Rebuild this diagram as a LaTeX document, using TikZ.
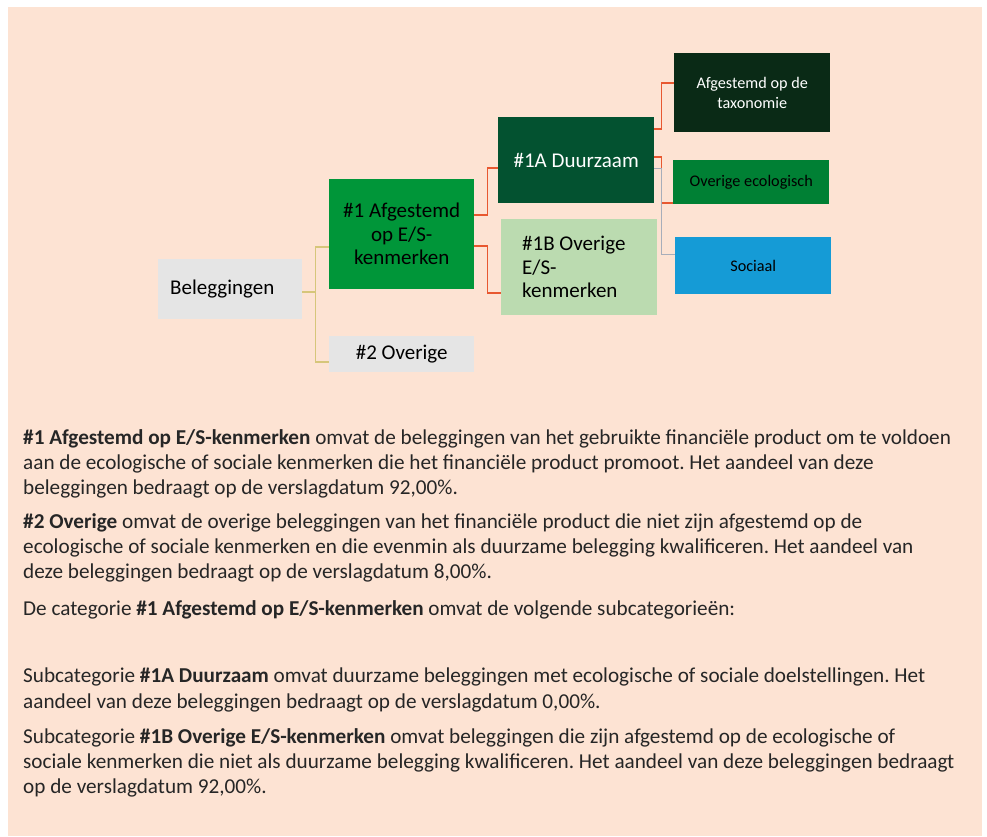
\documentclass[tikz,border=0pt]{standalone}
\usepackage{fontspec}
\setmainfont{Carlito}
\frenchspacing
\usetikzlibrary{positioning}

\definecolor{peach}{RGB}{253,227,211}
\definecolor{boxgray}{RGB}{229,229,229}
\definecolor{esgreen}{RGB}{0,150,57}
\definecolor{sustgreen}{RGB}{3,82,48}
\definecolor{lightgreen}{RGB}{187,219,176}
\definecolor{taxgreen}{RGB}{10,42,22}
\definecolor{ecogreen}{RGB}{0,128,52}
\definecolor{socblue}{RGB}{21,155,214}
\definecolor{linkred}{RGB}{232,88,48}
\definecolor{linktan}{RGB}{214,198,122}
\definecolor{linkgray}{RGB}{168,174,186}
\definecolor{bodytext}{RGB}{38,38,38}

\begin{document}
\begin{tikzpicture}[x=1pt,y=-1pt,
		box/.style={anchor=north west, inner sep=0pt, align=center, text=black,
			font=\fontsize{21}{23.5}\selectfont},
		smallbox/.style={box, font=\fontsize{16.2}{19.5}\selectfont},
		para/.style={anchor=north west, inner sep=0pt, align=left, text=bodytext,
			font=\fontsize{21.2}{25.2}\selectfont},
		tanlink/.style={draw=linktan, line width=1.8pt},
		redlink/.style={draw=linkred, line width=1.5pt},
		graylink/.style={draw=linkgray, line width=1pt}]
		\useasboundingbox (0,0) rectangle (987,837);
		\fill[peach] (8,7) rectangle (982,836);
		
		% Boxes
		\node[box, fill=boxgray, align=flush left, text width=120pt, inner xsep=12pt, minimum height=60pt] (bel) at (158,259) {Beleggingen};
		\node[box, fill=esgreen, minimum width=145pt, minimum height=110pt] (grp1) at (329,179) {\#1 Afgestemd\\op E/S-\\kenmerken};
		\node[box, fill=boxgray, minimum width=145pt, minimum height=36pt] (grp2) at (329,336) {\#2 Overige};
		\node[box, fill=sustgreen, text=white, minimum width=156pt, minimum height=86pt] (sust) at (498,117) {\#1A Duurzaam};
		\node[box, fill=lightgreen, align=flush left, text width=114pt, inner xsep=21pt, minimum height=96pt] (other) at (501,219) {\#1B Overige\\E/S-\\kenmerken};
		\node[smallbox, fill=taxgreen, text=white, minimum width=156pt, minimum height=79pt] (tax) at (674,53) {Afgestemd op de\\taxonomie};
		\node[smallbox, fill=ecogreen, minimum width=156pt, minimum height=44pt] (eco) at (673,160) {Overige ecologisch};
		\node[smallbox, fill=socblue, minimum width=156pt, minimum height=57pt] (soc) at (675,237) {Sociaal};
		
		% Links
		\draw[tanlink] ([yshift=-3pt]bel.east) -- ++(13,0) |- ([yshift=-13pt]grp1.west);
		\draw[tanlink] ([yshift=-3pt]bel.east) -- ++(13,0) |- ([yshift=-8pt]grp2.west);
		\draw[redlink] ([yshift=19pt]grp1.east) -- ++(13,0) |- ([yshift=-8pt]sust.west);
		\draw[redlink] ([yshift=-12pt]grp1.east) -- ++(13,0) |- ([yshift=-26pt]other.west);
		\draw[redlink] ([yshift=31pt]sust.east) -- ++(7,0) |- ([yshift=9.5pt]tax.west);
		\draw[redlink] ([yshift=3pt]sust.east) -- ++(7,0) |- ([yshift=-21pt]eco.west);
		\draw[graylink] ([yshift=-8pt]sust.east) -- ++(7,0) |- ([yshift=11.5pt]soc.west);
		
		% Text below
		\node[para] (txt1) at (23,429) {\textbf{\#1 Afgestemd op E/S-kenmerken} omvat de beleggingen van het gebruikte financiële product om te voldoen\\aan de ecologische of sociale kenmerken die het financiële product promoot. Het aandeel van deze\\beleggingen bedraagt op de verslagdatum 92,00\%.};
		\node[para] (txt2) at (23,513) {\textbf{\#2 Overige} omvat de overige beleggingen van het financiële product die niet zijn afgestemd op de\\ecologische of sociale kenmerken en die evenmin als duurzame belegging kwalificeren. Het aandeel van\\deze beleggingen bedraagt op de verslagdatum 8,00\%.};
		\node[para] (txt3) at (23,600) {De categorie \textbf{\#1 Afgestemd op E/S-kenmerken} omvat de volgende subcategorieën:};
		\node[para] (txt4) at (23,668) {Subcategorie \textbf{\#1A Duurzaam} omvat duurzame beleggingen met ecologische of sociale doelstellingen. Het\\aandeel van deze beleggingen bedraagt op de verslagdatum 0,00\%.};
		\node[para] (txt5) at (23,728) {Subcategorie \textbf{\#1B Overige E/S-kenmerken} omvat beleggingen die zijn afgestemd op de ecologische of\\sociale kenmerken die niet als duurzame belegging kwalificeren. Het aandeel van deze beleggingen bedraagt\\op de verslagdatum 92,00\%.};
	\end{tikzpicture}
\end{document}
